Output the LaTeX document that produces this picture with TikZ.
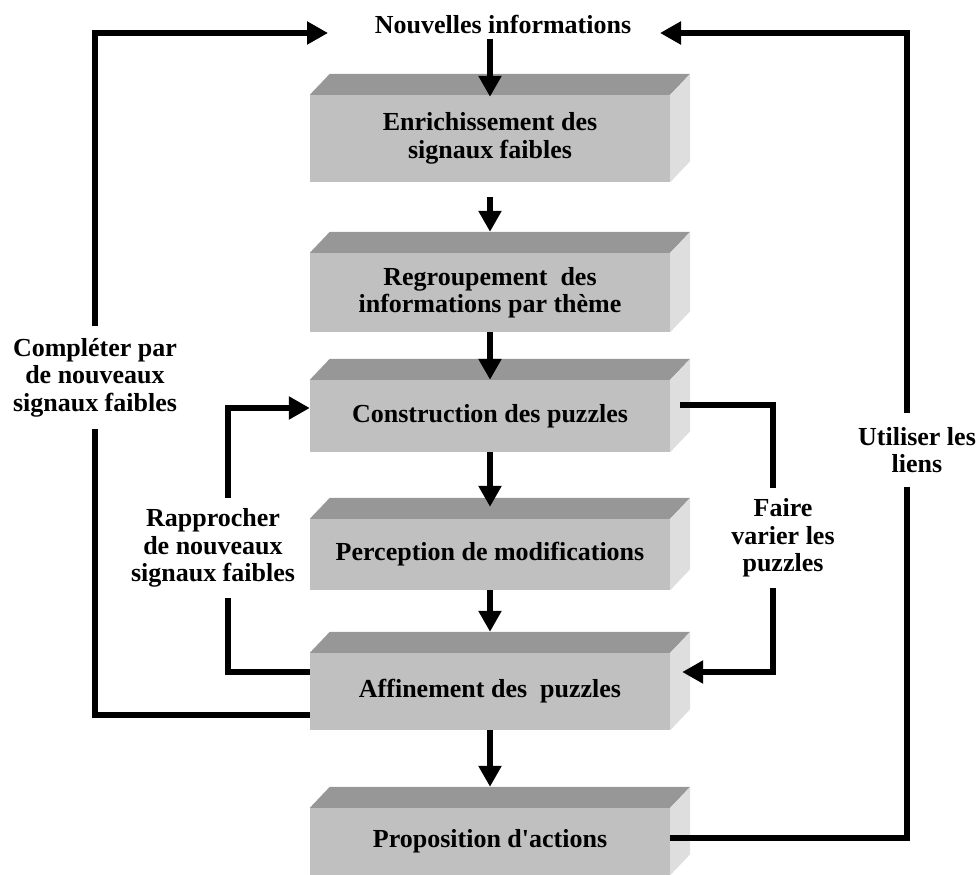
\documentclass[tikz,border=0pt]{standalone}
\usepackage{fontspec}
\setmainfont{Liberation Serif}
\usetikzlibrary{arrows.meta,calc}

\definecolor{frontgray}{HTML}{C0C0C0}
\definecolor{topgray}{HTML}{979797}
\definecolor{sidegray}{HTML}{DEDEDE}

\newcommand\flowfont{\fontsize{26}{27.5}\selectfont\bfseries}

% a bevelled block: name, vertical centre, front height, text
\newcommand\stepblock[4]{%
  \node[blockface, minimum height=#3pt] (#1) at (490,#2) {#4};
  \fill[topgray] (#1.north west) -- ++(20,-21) -- ($(#1.north east)+(20,-21)$) -- (#1.north east) -- cycle;
  \fill[sidegray] (#1.north east) -- ++(20,-21) -- ($(#1.south east)+(20,-21)$) -- (#1.south east) -- cycle;
}

\tikzset{
  blockface/.style={fill=frontgray, minimum width=360pt, inner sep=0pt, align=center, font=\flowfont},
  looplabel/.style={font=\flowfont, align=center, inner xsep=2pt, inner ysep=0pt},
  conn/.style={line width=5.5pt},
  arr/.style={line width=5.5pt, -{Triangle[length=21pt,width=22pt]}},
}

\begin{document}
\begin{tikzpicture}[x=1pt,y=-1pt]
\useasboundingbox (0,0) rectangle (977,875);

% the six stages
\stepblock{b1}{138.5}{87}{Enrichissement des\\signaux faibles}
\stepblock{b2}{292.5}{79}{Regroupement\ \ des\\informations par th\`eme}
\stepblock{b3}{416}{72}{Construction des puzzles}
\stepblock{b4}{554.5}{71}{Perception de modifications}
\stepblock{b5}{691.5}{77}{Affinement des\ \ puzzles}
\stepblock{b6}{841.5}{67}{Proposition d\textquotesingle actions}

% incoming information
\node[font=\flowfont, inner sep=2pt] (nouv) at (503,25) {Nouvelles informations};
\coordinate (inL) at (328,33);
\coordinate (inR) at (660,33);

% loop labels
\node[looplabel, minimum height=103pt] (lblC) at (95,377.5) {Compl\'eter par\\de nouveaux\\signaux faibles};
\node[looplabel, minimum height=100pt] (lblR) at (213,548) {Rapprocher\\de nouveaux\\signaux faibles};
\node[looplabel, minimum height=100pt] (lblF) at (783,538) {Faire\\varier les\\puzzles};
\node[looplabel, minimum height=74pt] (lblU) at (917,450) {Utiliser les\\liens};
\coordinate (xR) at (228,0);
\coordinate (xF) at (773,0);
\coordinate (xU) at (907,0);

% main chain
\draw[arr] ($(nouv.south -| b1.north)+(0,2)$) -- ($(b1.north)+(0,2)$);
\draw[arr] ($(b1.south)+(0,15)$) -- ($(b2.north)+(0,-21)$);
\draw[arr] (b2.south) -- (b3.north);
\draw[arr] (b3.south) -- ($(b4.north)+(0,-12)$);
\draw[arr] (b4.south) -- ($(b5.north)+(0,-21)$);
\draw[arr] (b5.south) -- ($(b6.north)+(0,-21)$);

% complete with new weak signals
\draw[conn] ($(b5.west)+(0,23.5)$) -| (lblC.south);
\draw[arr] (lblC.north) |- (inL);

% bring new weak signals together
\draw[conn] ($(b5.west)+(0,-19.5)$) -| (lblR.south -| xR);
\draw[arr] (lblR.north -| xR) |- ($(b3.west)+(0,-8)$);

% vary the puzzles
\draw[conn] ($(b3.east)+(10,-11)$) -| (lblF.north -| xF);
\draw[arr] (lblF.south -| xF) |- ($(b5.east)+(12,-19.5)$);

% use the links
\draw[conn] ($(b6.east)+(0,-3.5)$) -| (lblU.south -| xU);
\draw[arr] (lblU.north -| xU) |- (inR);
\end{tikzpicture}
\end{document}
